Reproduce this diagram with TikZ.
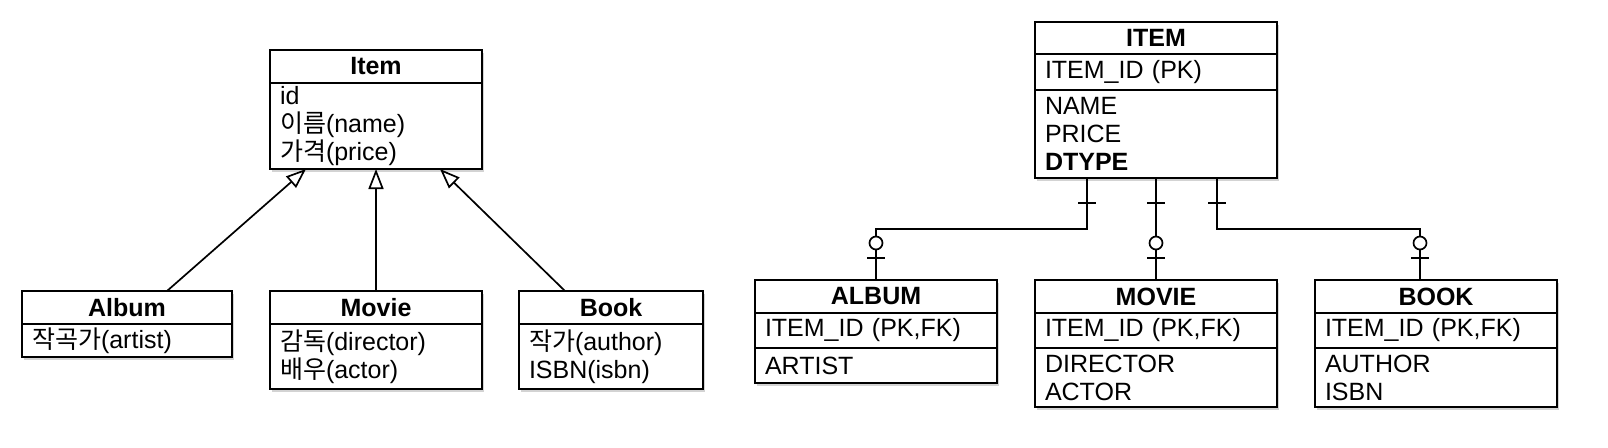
\documentclass[tikz,border=0pt]{standalone}
\usepackage{fontspec}
\setmainfont{Liberation Sans}
\newfontfamily\kr{Noto Sans CJK KR}
\usepackage{tikz}
\usetikzlibrary{positioning}
\usetikzlibrary{arrows.meta}
\usetikzlibrary{shadows}
\usetikzlibrary{decorations.markings}

\begin{document}
\begin{tikzpicture}[x=1pt, y=-1pt, node distance=0pt, outer sep=0pt,
  font=\fontsize{25}{28}\selectfont,
  box/.style={draw, line width=1.8pt, fill=white, inner xsep=10pt, inner ysep=0pt,
    drop shadow={shadow xshift=2pt, shadow yshift=-3pt, opacity=0.35}},
  head/.style={box, align=center, font=\fontsize{25}{28}\selectfont\bfseries},
  body/.style={box, align=left},
  isa/.style={line width=1.7pt, -{Triangle[open, length=20pt, width=15pt]}},
  rel/.style={line width=1.7pt, postaction={decorate}, decoration={markings,
    mark=at position 25pt with {\draw[line width=1.7pt] (0,-9pt) -- (0,9pt);},
    mark=at position -37pt with {\draw[line width=1.7pt, fill=white] (0,0) circle (6.5pt);},
    mark=at position -22pt with {\draw[line width=1.7pt] (0,-9pt) -- (0,9pt);}}}]

\useasboundingbox (0,0) rectangle (1608,447);

% Class diagram
\node [head, text width=192pt, minimum height=33pt, anchor=north west] (item) at (270,50) {Item};
\node [body, text width=192pt, minimum height=86pt, below=of item] (item_attr) {id\\{\kr 이름}(name)\\{\kr 가격}(price)};

\node [head, text width=190pt, minimum height=33pt, anchor=north west] (album) at (22,291) {Album};
\node [body, text width=190pt, minimum height=33pt, below=of album] (album_attr) {{\kr 작곡가}(artist)};

\node [head, text width=192pt, minimum height=33pt, anchor=north west] (movie) at (270,291) {Movie};
\node [body, text width=192pt, minimum height=65pt, below=of movie] (movie_attr) {{\kr 감독}(director)\\{\kr 배우}(actor)};

\node [head, text width=164pt, minimum height=33pt, anchor=north west] (book) at (519,291) {Book};
\node [body, text width=164pt, minimum height=65pt, below=of book] (book_attr) {{\kr 작가}(author)\\ISBN(isbn)};

\draw [isa] ([xshift=40pt]album.north) -- ([xshift=-70pt]item_attr.south);
\draw [isa] (movie.north) -- (item_attr.south);
\draw [isa] ([xshift=-46pt]book.north) -- ([xshift=64pt]item_attr.south);

% Tables
\node [head, text width=222pt, minimum height=32pt, anchor=north west] (ITEM) at (1035,22) {ITEM};
\node [body, text width=222pt, minimum height=36pt, below=of ITEM] (ITEM_key) {ITEM\_ID (PK)};
\node [body, text width=222pt, minimum height=88pt, below=of ITEM_key] (ITEM_cols) {NAME\\PRICE\\\textbf{DTYPE}};

\node [head, text width=222pt, minimum height=33pt, anchor=north west] (ALBUM) at (755,280) {ALBUM};
\node [body, text width=222pt, minimum height=35pt, below=of ALBUM] (ALBUM_key) {ITEM\_ID (PK,FK)};
\node [body, text width=222pt, minimum height=35pt, below=of ALBUM_key] (ALBUM_cols) {ARTIST};

\node [head, text width=222pt, minimum height=33pt, anchor=north west] (MOVIE) at (1035,280) {MOVIE};
\node [body, text width=222pt, minimum height=35pt, below=of MOVIE] (MOVIE_key) {ITEM\_ID (PK,FK)};
\node [body, text width=222pt, minimum height=59pt, below=of MOVIE_key] (MOVIE_cols) {DIRECTOR\\ACTOR};

\node [head, text width=222pt, minimum height=33pt, anchor=north west] (BOOK) at (1315,280) {BOOK};
\node [body, text width=222pt, minimum height=35pt, below=of BOOK] (BOOK_key) {ITEM\_ID (PK,FK)};
\node [body, text width=222pt, minimum height=59pt, below=of BOOK_key] (BOOK_cols) {AUTHOR\\ISBN};

\draw [rel] ([xshift=-69pt]ITEM_cols.south) -- ++(0,51) -| (ALBUM.north);
\draw [rel] (ITEM_cols.south) -- (MOVIE.north);
\draw [rel] ([xshift=61pt]ITEM_cols.south) -- ++(0,51) -| ([xshift=-16pt]BOOK.north);

\end{tikzpicture}
\end{document}
